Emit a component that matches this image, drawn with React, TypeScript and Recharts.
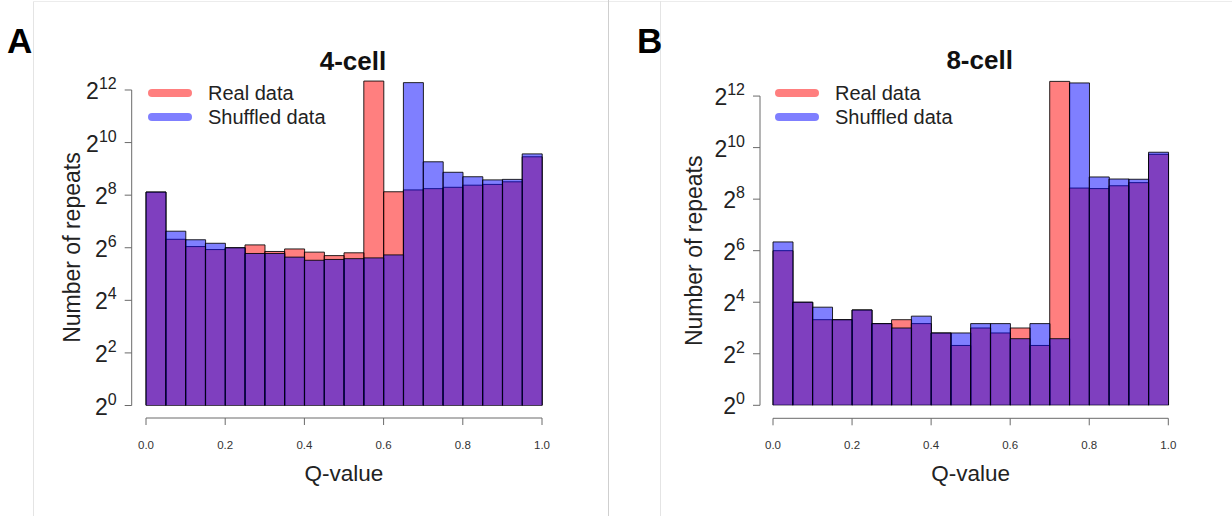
import React from 'react';
import { BarChart, Bar, XAxis, YAxis, ReferenceLine, Legend } from 'recharts';

// ---------- data ----------
const BIN_LEFT = [0.0, 0.05, 0.1, 0.15, 0.2, 0.25, 0.3, 0.35, 0.4, 0.45, 0.5, 0.55, 0.6, 0.65, 0.7, 0.75, 0.8, 0.85, 0.9, 0.95];
const BIN_WIDTH = 0.05;

const REAL_4CELL = [278, 80, 66, 61, 64, 69, 58, 62, 57, 52, 56, 5184, 280, 294, 304, 315, 333, 340, 364, 704];
const SHUF_4CELL = [278, 99, 79, 72, 64, 55, 55, 50, 46, 47, 48, 49, 53, 4973, 617, 468, 416, 383, 388, 760];

const REAL_8CELL = [64, 16, 10, 10, 13, 9, 10, 9, 7, 5, 8, 7, 8, 5, 6080, 345, 340, 367, 399, 855];
const SHUF_8CELL = [81, 16, 14, 10, 13, 9, 8, 11, 7, 7, 9, 9, 6, 9, 6, 5830, 465, 440, 437, 904];

const Y_TICKS = [1, 4, 16, 64, 256, 1024, 4096];
const X_TICKS = [0, 0.2, 0.4, 0.6, 0.8, 1.0];
const Y_DOMAIN = [1, 8192];

const SERIES = [
  { key: 'real', name: 'Real data', fill: 'rgba(255,0,0,0.5)' },
  { key: 'shuffled', name: 'Shuffled data', fill: 'rgba(0,0,255,0.5)' },
];

const PANEL_TITLES = ['4-cell', '8-cell'];
const PANEL_LETTERS = ['A', 'B'];
const X_LABEL = 'Q-value';
const Y_LABEL = 'Number of repeats';

const FONT = '"Liberation Sans", Arial, Helvetica, sans-serif';
const AXIS_COLOR = '#6a6a6a';

const buildRows = (real: number[], shuf: number[]) =>
  BIN_LEFT.map((l, i) => ({
    bin: `${l.toFixed(2)}-${(l + BIN_WIDTH).toFixed(2)}`,
    q: l + BIN_WIDTH / 2,
    real: real[i],
    shuffled: shuf[i],
  }));

const ROWS_A = buildRows(REAL_4CELL, SHUF_4CELL);
const ROWS_B = buildRows(REAL_8CELL, SHUF_8CELL);

// ---------- layout per panel ----------
type PanelCfg = {
  left: number;
  width: number;
  height: number;
  top: number;
  right: number;
  yAxisWidth: number;
  spacer: number;
  numHeight: number;
  gap: number;
  yLabelX: number;
  legendLeft: number;
};

const CFG_A: PanelCfg = {
  left: 0, width: 600, height: 516, top: 63.7, right: 58,
  yAxisWidth: 146, spacer: 12.5, numHeight: 98, gap: 14.3, yLabelX: 80, legendLeft: 148,
};
const CFG_B: PanelCfg = {
  left: 616, width: 616, height: 516, top: 70.3, right: 63.7,
  yAxisWidth: 157, spacer: 13, numHeight: 97.7, gap: 13, yLabelX: 86, legendLeft: 159,
};

const makeYTick = (gap: number) => (props: any) => {
  const { x, y, payload } = props;
  const exp = Math.round(Math.log2(payload.value));
  return (
    <g>
      <line x1={x - gap} x2={x - gap - 7} y1={y} y2={y} stroke={AXIS_COLOR} strokeWidth={1} />
      <text x={x - gap - 15} y={y + 9} textAnchor="end" fontFamily={FONT} fontSize={23} fill="#222">
        2<tspan fontSize={16} dy={-10}>{exp}</tspan>
      </text>
    </g>
  );
};

const XTick = (props: any) => {
  const { x, y, payload } = props;
  return (
    <text x={x} y={y + 23.5} textAnchor="middle" fontFamily={FONT} fontSize={11.5} fill="#333">
      {Number(payload.value).toFixed(1)}
    </text>
  );
};

const makeYLabel = (bx: number) => (props: any) => {
  const vb = props.viewBox || {};
  const cy = vb.y + vb.height / 2 + 13;
  return (
    <text x={bx} y={cy} transform={`rotate(-90 ${bx} ${cy})`} textAnchor="middle" fontFamily={FONT} fontSize={23} fill="#222">
      {Y_LABEL}
    </text>
  );
};

const XLabel = (props: any) => {
  const vb = props.viewBox || {};
  return (
    <text x={vb.x + vb.width / 2} y={vb.y + 62.5} textAnchor="middle" fontFamily={FONT} fontSize={22.5} fill="#222">
      {X_LABEL}
    </text>
  );
};

const renderLegend = (props: any) => {
  const { payload } = props;
  return (
    <div style={{ fontFamily: FONT }}>
      {(payload || []).map((e: any) => (
        <div key={e.value} style={{ display: 'flex', alignItems: 'center', height: 24 }}>
          <span style={{ display: 'inline-block', width: 44, height: 8, borderRadius: 4, background: e.color, marginRight: 16 }} />
          <span style={{ fontSize: 20, color: '#222', whiteSpace: 'nowrap', lineHeight: '24px' }}>{e.value}</span>
        </div>
      ))}
    </div>
  );
};

function Panel({ rows, cfg }: { rows: any[]; cfg: PanelCfg }) {
  const plotWidth = cfg.width - cfg.yAxisWidth - cfg.right;
  const axisX = -cfg.gap / plotWidth;
  return (
    <div style={{ position: 'absolute', left: cfg.left, top: 0, width: cfg.width, height: cfg.height }}>
      <BarChart
        width={cfg.width}
        height={cfg.height}
        data={rows}
        margin={{ top: cfg.top, right: cfg.right, bottom: 0, left: 0 }}
        barCategoryGap={0}
        barGap={0}
      >
        <XAxis xAxisId="cat" dataKey="bin" type="category" height={cfg.spacer} tick={false} axisLine={false} tickLine={false} />
        <XAxis xAxisId="cat2" dataKey="bin" type="category" height={0} hide />
        <XAxis
          xAxisId="num"
          dataKey="q"
          type="number"
          domain={[0, 1]}
          allowDataOverflow
          ticks={X_TICKS}
          interval={0}
          height={cfg.numHeight}
          axisLine={{ stroke: AXIS_COLOR }}
          tickLine={{ stroke: AXIS_COLOR }}
          tickSize={7}
          tickMargin={0}
          tick={XTick}
          label={XLabel}
        />
        <YAxis
          yAxisId="y"
          type="number"
          scale="log"
          domain={Y_DOMAIN}
          allowDataOverflow
          ticks={Y_TICKS}
          interval={0}
          width={cfg.yAxisWidth}
          axisLine={false}
          tickLine={false}
          tickSize={0}
          tickMargin={0}
          tick={makeYTick(cfg.gap)}
          label={makeYLabel(cfg.yLabelX)}
        />
        <ReferenceLine
          xAxisId="num"
          yAxisId="y"
          segment={[{ x: axisX, y: Y_TICKS[0] }, { x: axisX, y: Y_TICKS[Y_TICKS.length - 1] }]}
          stroke={AXIS_COLOR}
          strokeWidth={1}
          ifOverflow="visible"
        />
        <Legend
          layout="vertical"
          align="center"
          verticalAlign="middle"
          wrapperStyle={{ left: cfg.legendLeft, top: 81, width: 'auto', height: 'auto' }}
          content={renderLegend}
        />
        <Bar
          xAxisId="cat"
          yAxisId="y"
          dataKey={SERIES[0].key}
          name={SERIES[0].name}
          fill={SERIES[0].fill}
          stroke="rgba(0,0,0,0.85)"
          strokeWidth={1}
          isAnimationActive={false}
        />
        <Bar
          xAxisId="cat2"
          yAxisId="y"
          dataKey={SERIES[1].key}
          name={SERIES[1].name}
          fill={SERIES[1].fill}
          stroke="rgba(0,0,0,0.85)"
          strokeWidth={1}
          isAnimationActive={false}
        />
      </BarChart>
    </div>
  );
}

export default function App() {
  const titleCxA = CFG_A.left + CFG_A.yAxisWidth + (CFG_A.width - CFG_A.yAxisWidth - CFG_A.right) / 2 + 9;
  const titleCxB = CFG_B.left + CFG_B.yAxisWidth + (CFG_B.width - CFG_B.yAxisWidth - CFG_B.right) / 2 + 9;
  return (
    <div style={{ position: 'absolute', left: 0, top: 0, width: 1232, height: 516, background: '#fff', overflow: 'hidden' }}>
      <svg width={1232} height={516} style={{ position: 'absolute', left: 0, top: 0 }}>
        <line x1={33.5} x2={33.5} y1={1} y2={516} stroke="#e4e4e4" />
        <line x1={33} x2={1232} y1={1.5} y2={1.5} stroke="#ececec" />
        <line x1={608.5} x2={608.5} y1={0} y2={516} stroke="#cfcfcf" />
        <line x1={660.5} x2={660.5} y1={1} y2={516} stroke="#e4e4e4" />
        <text x={7} y={53} fontFamily={FONT} fontWeight="bold" fontSize={35} fill="#000">{PANEL_LETTERS[0]}</text>
        <text x={637} y={53} fontFamily={FONT} fontWeight="bold" fontSize={35} fill="#000">{PANEL_LETTERS[1]}</text>
        <text x={titleCxA} y={70} textAnchor="middle" fontFamily={FONT} fontWeight="bold" fontSize={26} fill="#111">{PANEL_TITLES[0]}</text>
        <text x={titleCxB} y={68.5} textAnchor="middle" fontFamily={FONT} fontWeight="bold" fontSize={26} fill="#111">{PANEL_TITLES[1]}</text>
      </svg>
      <Panel rows={ROWS_A} cfg={CFG_A} />
      <Panel rows={ROWS_B} cfg={CFG_B} />
    </div>
  );
}
